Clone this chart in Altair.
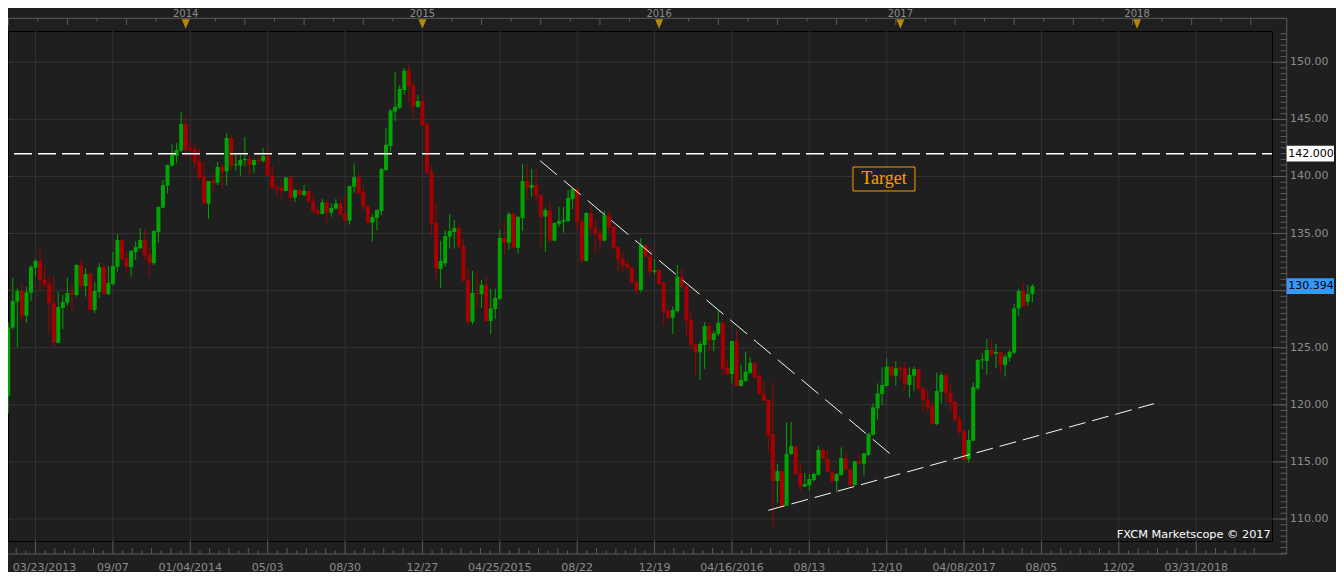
import altair as alt
import numpy as np
import pandas as pd

# ---------------- weekly OHLC (bar index 0 = first visible week) ----------------
opens = [120.80, 126.76, 129.04, 129.97, 127.81, 129.82, 132.00, 132.60, 131.00, 130.58,
         128.89, 125.44, 128.48, 128.95, 129.82, 129.62, 132.25, 130.41, 131.49, 128.30,
         129.91, 132.07, 129.71, 130.58, 132.10, 134.43, 132.86, 132.07, 133.38, 133.70,
         134.43, 133.12, 132.42, 135.13, 137.27, 139.19, 140.95, 141.82, 142.26, 144.60,
         142.49, 142.41, 141.36, 139.98, 137.62, 139.60, 139.46, 140.83, 140.45, 143.37,
         140.98, 140.95, 141.44, 141.53, 141.00, 141.44, 141.38, 141.79, 140.10, 139.10,
         139.02, 138.73, 139.90, 138.14, 138.81, 138.38, 138.73, 137.82, 137.03, 136.71,
         137.73, 136.83, 137.18, 137.65, 136.71, 136.13, 139.10, 139.95, 138.61, 137.41,
         135.95, 136.37, 136.98, 140.57, 142.67, 145.68, 146.03, 147.57, 149.27, 148.00,
         146.11, 146.61, 144.60, 140.39, 135.93, 131.90, 132.40, 134.73, 135.14, 135.49,
         133.91, 130.93, 127.28, 129.80, 129.70, 130.50, 127.34, 128.39, 129.27, 134.61,
         134.20, 136.71, 133.76, 136.36, 139.60, 139.02, 139.25, 138.38, 136.48, 137.06,
         134.38, 135.87, 136.04, 136.10, 138.03, 138.90, 136.04, 132.62, 136.80, 135.52,
         135.05, 134.38, 136.60, 135.60, 133.82, 132.77, 132.33, 132.04, 130.76, 130.06,
         133.99, 132.97, 131.66, 131.80, 130.70, 128.25, 127.63, 128.22, 131.23, 130.41,
         127.43, 125.33, 124.60, 125.24, 126.90, 125.68, 126.20, 127.20, 123.26, 122.70,
         125.59, 121.65, 122.08, 122.81, 123.69, 122.52, 121.00, 120.42, 117.45, 113.33,
         114.20, 111.17, 115.69, 116.39, 114.03, 112.83, 112.97, 113.41, 113.85, 116.04,
         115.31, 114.15, 113.33, 113.85, 115.34, 114.38, 112.98, 115.05, 114.84, 115.63,
         117.39, 119.69, 120.95, 121.65, 123.34, 122.55, 123.28, 123.20, 121.74, 122.55,
         123.14, 121.44, 120.48, 119.84, 118.32, 121.15, 122.61, 121.08, 120.28, 118.76,
         117.71, 115.23, 116.86, 121.44, 123.90, 123.84, 124.80, 124.48, 124.63, 123.49,
         124.13, 124.57, 128.45, 129.97, 129.03, 129.70]
highs = [127.22, 131.11, 130.20, 130.67, 130.32, 132.25, 132.77, 133.79, 132.16, 131.34,
         131.28, 129.88, 129.62, 131.11, 130.55, 132.30, 132.77, 131.98, 131.57, 130.76,
         132.42, 132.33, 132.16, 133.38, 134.96, 134.52, 133.50, 133.56, 134.32, 135.48,
         135.40, 133.73, 135.31, 137.38, 139.69, 141.05, 142.84, 142.93, 145.65, 145.12,
         143.20, 142.90, 142.40, 141.24, 139.60, 140.27, 141.27, 141.09, 143.81, 143.57,
         141.94, 141.88, 143.46, 141.82, 141.50, 141.94, 142.49, 142.38, 140.95, 139.34,
         139.63, 139.98, 139.98, 138.90, 138.90, 139.25, 138.81, 138.46, 137.30, 138.03,
         137.94, 137.65, 138.03, 138.03, 138.29, 139.20, 141.15, 140.21, 139.16, 137.50,
         136.68, 137.10, 140.74, 144.25, 145.88, 149.15, 148.00, 149.50, 149.79, 148.27,
         147.14, 147.22, 144.80, 140.92, 137.65, 134.35, 135.31, 136.70, 136.19, 135.93,
         134.58, 131.87, 131.72, 131.52, 130.93, 131.28, 130.14, 130.14, 135.31, 135.98,
         136.89, 136.97, 136.54, 141.09, 141.00, 140.66, 140.66, 138.40, 137.24, 137.76,
         136.00, 137.33, 137.33, 138.82, 138.97, 138.97, 136.25, 136.89, 137.42, 136.19,
         135.25, 136.97, 136.97, 135.69, 133.91, 133.27, 132.80, 132.10, 130.99, 134.61,
         134.05, 133.80, 132.77, 131.93, 130.80, 128.69, 128.60, 132.25, 131.98, 130.50,
         128.13, 125.33, 125.60, 127.25, 127.20, 126.50, 128.22, 127.20, 123.98, 125.60,
         126.47, 123.50, 124.66, 124.16, 123.70, 122.70, 122.03, 120.50, 121.99, 114.82,
         114.20, 118.44, 118.50, 116.40, 114.87, 114.03, 113.94, 114.06, 116.39, 116.19,
         116.04, 114.15, 114.00, 116.28, 115.75, 114.40, 115.10, 115.75, 115.80, 117.56,
         120.16, 121.88, 123.30, 124.07, 123.40, 123.81, 123.40, 123.75, 123.28, 123.34,
         123.14, 121.44, 121.30, 120.28, 122.82, 122.85, 122.85, 121.82, 120.30, 119.02,
         117.80, 117.80, 121.97, 123.98, 124.50, 125.77, 125.68, 125.33, 124.65, 124.45,
         124.80, 128.83, 130.15, 130.73, 130.50, 130.58]
lows = [119.23, 126.60, 125.06, 127.28, 127.20, 129.09, 131.28, 130.06, 130.26, 126.23,
        125.06, 125.40, 126.64, 128.68, 128.07, 129.47, 130.14, 129.47, 128.20, 128.04,
        129.36, 129.60, 129.60, 130.50, 131.66, 132.68, 131.52, 131.23, 132.68, 133.65,
        132.68, 131.31, 132.24, 134.20, 137.20, 138.52, 140.90, 141.15, 142.17, 141.68,
        141.60, 140.57, 139.70, 137.60, 136.28, 138.76, 139.25, 138.93, 139.25, 140.57,
        140.48, 140.07, 140.90, 140.13, 140.33, 141.15, 141.20, 139.98, 138.90, 138.23,
        138.03, 138.70, 137.76, 137.76, 138.23, 138.23, 137.75, 136.77, 136.70, 136.70,
        135.84, 136.48, 137.10, 136.57, 136.10, 135.78, 138.58, 138.40, 137.00, 135.90,
        134.29, 135.30, 136.62, 140.48, 142.17, 144.86, 145.90, 147.14, 146.52, 145.06,
        145.97, 144.40, 140.20, 134.82, 131.02, 130.23, 132.10, 133.70, 133.68, 133.59,
        130.80, 127.05, 127.05, 128.50, 128.50, 127.30, 126.20, 127.52, 129.20, 133.24,
        133.56, 133.70, 133.24, 135.22, 137.94, 138.23, 137.79, 133.85, 133.42, 134.33,
        134.30, 135.60, 135.08, 136.00, 137.15, 135.31, 132.40, 132.50, 134.90, 133.24,
        133.56, 134.30, 134.87, 133.56, 131.66, 131.57, 131.90, 130.60, 129.70, 129.82,
        132.88, 131.23, 131.40, 130.50, 126.93, 127.50, 126.20, 128.10, 130.20, 126.00,
        125.00, 122.55, 122.17, 123.14, 124.70, 124.70, 126.00, 122.60, 122.60, 121.88,
        121.60, 121.60, 122.03, 122.70, 122.30, 120.90, 120.30, 115.69, 109.33, 111.43,
        110.93, 111.10, 115.60, 113.90, 112.33, 112.80, 112.48, 113.30, 113.80, 115.20,
        114.10, 113.20, 112.40, 113.80, 114.30, 112.83, 112.90, 114.80, 113.79, 115.50,
        117.30, 118.70, 120.00, 121.60, 122.30, 121.68, 122.10, 121.36, 120.63, 121.24,
        121.20, 119.40, 119.40, 118.20, 118.20, 120.13, 120.22, 119.40, 118.60, 117.45,
        115.10, 114.93, 116.80, 121.30, 123.10, 122.61, 124.16, 123.20, 122.70, 122.47,
        123.78, 124.45, 127.81, 128.60, 128.68, 128.98]
closes = [126.79, 129.09, 129.97, 127.81, 129.85, 132.07, 132.60, 130.96, 130.52, 128.89,
          125.44, 128.57, 129.00, 129.79, 129.65, 132.25, 130.41, 131.46, 128.30, 129.97,
          132.07, 129.71, 130.67, 132.16, 134.43, 132.77, 132.07, 133.47, 133.82, 134.43,
          133.06, 132.42, 135.22, 137.33, 139.25, 141.00, 141.88, 142.32, 144.60, 142.32,
          142.32, 141.30, 139.90, 137.62, 139.60, 139.40, 140.83, 140.45, 143.37, 140.95,
          141.00, 141.44, 141.53, 141.00, 141.44, 141.36, 141.79, 140.04, 139.02, 138.93,
          138.73, 139.90, 138.14, 138.81, 138.38, 138.73, 137.80, 137.00, 136.71, 137.73,
          136.83, 137.24, 137.65, 136.65, 136.13, 139.17, 139.95, 138.52, 137.36, 135.95,
          136.45, 137.06, 140.65, 142.76, 145.76, 146.11, 147.66, 149.27, 147.92, 146.11,
          146.61, 144.51, 140.33, 135.84, 131.90, 132.60, 134.78, 135.22, 135.49, 133.85,
          130.87, 127.28, 129.80, 129.70, 130.50, 127.34, 128.45, 129.36, 134.61, 134.20,
          136.71, 133.76, 136.45, 139.60, 139.02, 139.25, 138.32, 136.48, 137.06, 134.38,
          135.93, 136.10, 136.19, 138.12, 138.90, 136.04, 132.62, 136.80, 135.52, 134.99,
          134.38, 136.60, 135.52, 133.76, 132.71, 132.25, 131.98, 130.70, 130.06, 133.99,
          132.97, 131.66, 131.80, 130.58, 128.16, 127.63, 128.30, 131.23, 130.35, 127.37,
          125.27, 124.60, 125.33, 126.90, 125.68, 126.26, 127.20, 123.14, 122.70, 125.59,
          121.65, 122.17, 122.90, 123.69, 122.41, 120.95, 120.36, 117.36, 113.33, 114.20,
          111.08, 115.69, 116.39, 113.94, 112.83, 113.06, 113.50, 113.94, 116.04, 115.31,
          114.15, 113.33, 113.94, 115.34, 114.35, 112.98, 115.05, 114.84, 115.75, 117.45,
          119.78, 121.00, 121.74, 123.34, 122.58, 123.20, 123.10, 121.82, 122.61, 123.14,
          121.41, 120.45, 119.76, 118.32, 121.21, 122.61, 121.03, 120.19, 118.70, 117.65,
          115.17, 116.92, 121.56, 123.93, 123.93, 124.80, 124.42, 124.63, 123.49, 124.22,
          124.63, 128.45, 129.97, 128.60, 129.70, 130.39]

# ---------------- axis / annotation content ----------------
x_label_idx = [6, 23, 40, 57, 74, 91, 108, 125, 142, 159, 176, 193, 210, 227, 244, 261]
x_labels = ["03/23/2013", "09/07", "01/04/2014", "05/03", "08/30", "12/27", "04/25/2015",
            "08/22", "12/19", "04/16/2016", "08/13", "12/10", "04/08/2017", "08/05",
            "12/02", "03/31/2018"]
year_idx = [39, 91, 143, 196, 248]
year_labels = ["2014", "2015", "2016", "2017", "2018"]
price_ticks = [110, 115, 120, 125, 130, 135, 140, 145, 150]
price_tick_labels = ["110.00", "115.00", "120.00", "125.00", "130.00", "135.00",
                     "140.00", "145.00", "150.00"]
target_level = [142.0]
target_label = ["142.000"]
last_price = [130.394]
last_label = ["130.394"]
down_idx = [116.85, 193.88]
down_price = [141.38, 115.67]
up_idx = [166.99, 251.7]
up_price = [110.76, 120.10]
note_idx = [192.4]
note_price = [139.78]
note_text = ["Target"]
credit = ["FXCM Marketscope © 2017"]

# ---------------- styling ----------------
BG = "#1f1f1f"
GRID = "#333333"
AXIS = "#5c5c5c"
LABEL = "#8c8c8c"
UP = "#00a600"
DOWN = "#a60000"
GOLD = "#b8860b"
BLUE = "#3399ff"
ORANGE = "#ff9c00"
FONT = "DejaVu Sans"

W, H = 1264, 510
xs = alt.Scale(domain=[1.053, 276.55], nice=False, zero=False)
ys = alt.Scale(domain=[108.073, 152.741], nice=False, zero=False)


def X(f):
    return alt.X(f, type="quantitative", scale=xs, axis=None)


def Y(f):
    return alt.Y(f, type="quantitative", scale=ys, axis=None)


one = pd.DataFrame({"k": [0]})

df = pd.DataFrame({"idx": np.arange(len(opens)), "open": opens, "high": highs,
                   "low": lows, "close": closes})
df["dir"] = np.where(df["close"] >= df["open"], "up", "down")
df["bbot"] = np.minimum(df["open"], df["close"])
df["btop"] = np.maximum(np.maximum(df["open"], df["close"]), df["bbot"] + 0.09)
col = alt.Color("dir:N", scale=alt.Scale(domain=["up", "down"], range=[UP, DOWN]), legend=None)

# grid
vgrid = alt.Chart(pd.DataFrame({"idx": x_label_idx})).mark_rule(color=GRID, strokeWidth=1).encode(x=X("idx"))
hgrid = alt.Chart(pd.DataFrame({"p": price_ticks})).mark_rule(color=GRID, strokeWidth=1).encode(y=Y("p"))

# candles
wicks = alt.Chart(df).mark_rule(strokeWidth=1).encode(x=X("idx"), y=Y("low"), y2="high", color=col)
bodies = alt.Chart(df).mark_bar(size=4).encode(x=X("idx"), y=Y("bbot"), y2="btop", color=col)

# horizontal target line
tline = alt.Chart(pd.DataFrame({"p": target_level})).mark_rule(
    color="#ffffff", strokeWidth=1.5, strokeDash=[18, 6], strokeDashOffset=8).encode(y=Y("p"))

# trend lines
down_df = pd.DataFrame({"i": down_idx, "p": down_price})
up_df = pd.DataFrame({"i": up_idx, "p": up_price})
dline = alt.Chart(down_df).mark_line(color="#eaffea", strokeWidth=1, strokeDash=[22, 9]).encode(x=X("i"), y=Y("p"))
uline = alt.Chart(up_df).mark_line(color="#eaffea", strokeWidth=1, strokeDash=[17, 7]).encode(x=X("i"), y=Y("p"))

# Target note
note_df = pd.DataFrame({"i": note_idx, "p": note_price, "t": note_text})
note_box = alt.Chart(note_df).mark_rect(fill=BG, stroke=ORANGE, strokeWidth=1,
                                        xOffset=-31, x2Offset=31, yOffset=-12, y2Offset=12).encode(
    x=X("i"), x2="i", y=Y("p"), y2="p")
note_txt = alt.Chart(note_df).mark_text(font="Liberation Serif", fontSize=18, color=ORANGE,
                                        align="center", baseline="middle").encode(
    x=X("i"), y=Y("p"), text="t:N")

# right axis (the label hidden behind the last-price box is left out)
ylab_df = pd.DataFrame({"p": price_ticks, "t": price_tick_labels})
ylab_df = ylab_df[(ylab_df["p"] - last_price[0]).abs() > 1.2]
ylab = alt.Chart(ylab_df).mark_text(
    font=FONT, fontSize=11, color=LABEL, align="left", baseline="middle").encode(
    x=alt.value(1282), y=Y("p"), text="t:N")
minor_p = [round(107.0 + 0.5 * k, 2) for k in range(92)]
rt_minor = alt.Chart(pd.DataFrame({"p": minor_p})).mark_rule(color=AXIS, strokeWidth=1).encode(
    x=alt.value(1272.5), x2=alt.value(1278.7), y=Y("p"))
rt_major = alt.Chart(pd.DataFrame({"p": price_ticks})).mark_rule(color=AXIS, strokeWidth=1).encode(
    x=alt.value(1264.5), x2=alt.value(1278.7), y=Y("p"))
r_line = alt.Chart(one).mark_rule(color=AXIS, strokeWidth=1).encode(
    x=alt.value(1278.7), y=alt.value(-12.7), y2=alt.value(523))

# price boxes
box_df = pd.DataFrame({"p": target_level + last_price, "t": target_label + last_label,
                       "k": ["target", "last"]})
boxes = alt.Chart(box_df).mark_rect(yOffset=-7.8, y2Offset=7.8).encode(
    x=alt.value(1278.7), x2=alt.value(1326), y=Y("p"), y2="p",
    fill=alt.Color("k:N", scale=alt.Scale(domain=["target", "last"], range=["#ffffff", BLUE]), legend=None))
box_txt = alt.Chart(box_df).mark_text(font=FONT, fontSize=11, color="#000000", align="left",
                                      baseline="middle").encode(
    x=alt.value(1280.3), y=Y("p"), text="t:N")

# top strip
t_line = alt.Chart(one).mark_rule(color=AXIS, strokeWidth=1).encode(
    x=alt.value(0), x2=alt.value(1278.7), y=alt.value(-12.7))
top_ticks = [39 + 6.5 * k for k in range(-6, 37)]
tall = [v for k, v in zip(range(-6, 37), top_ticks) if k % 2 == 0]
short = [v for k, v in zip(range(-6, 37), top_ticks) if k % 2 != 0]
tt_tall = alt.Chart(pd.DataFrame({"idx": tall})).mark_rule(color=AXIS, strokeWidth=1).encode(
    x=X("idx"), y=alt.value(-12.7), y2=alt.value(-6))
tt_short = alt.Chart(pd.DataFrame({"idx": short})).mark_rule(color=AXIS, strokeWidth=1).encode(
    x=X("idx"), y=alt.value(-12.7), y2=alt.value(-9.3))
yr_df = pd.DataFrame({"idx": year_idx, "t": year_labels})
tri = alt.Chart(yr_df).mark_point(shape="M-1,-1.2L1,-1.2L0,1.2Z", size=64, filled=True,
                                  color=GOLD, opacity=1).encode(x=X("idx"), y=alt.value(-7))
yr_txt = alt.Chart(yr_df).mark_text(font=FONT, fontSize=10, color=LABEL, align="center",
                                    baseline="top").encode(
    x=X("idx"), y=alt.value(-22.5), text="t:N")

# bottom strip
b_line = alt.Chart(one).mark_rule(color=AXIS, strokeWidth=1).encode(
    x=alt.value(0), x2=alt.value(1278.7), y=alt.value(523))
bt = [6 + 2.125 * j for j in range(-2, 127)]
bt_major = [v for j, v in zip(range(-2, 127), bt) if j % 8 == 0]
bt_mid = [v for j, v in zip(range(-2, 127), bt) if j % 8 != 0 and j % 2 == 0]
bt_min = [v for j, v in zip(range(-2, 127), bt) if j % 2 != 0]
bmaj = alt.Chart(pd.DataFrame({"idx": bt_major})).mark_rule(color=AXIS).encode(
    x=X("idx"), y=alt.value(510), y2=alt.value(523))
bmid = alt.Chart(pd.DataFrame({"idx": bt_mid})).mark_rule(color=AXIS).encode(
    x=X("idx"), y=alt.value(517), y2=alt.value(523))
bmin = alt.Chart(pd.DataFrame({"idx": bt_min})).mark_rule(color=AXIS).encode(
    x=X("idx"), y=alt.value(519.5), y2=alt.value(523))
xl_df = pd.DataFrame({"idx": x_label_idx, "t": x_labels})
xl_first = alt.Chart(xl_df.iloc[:1]).mark_text(font=FONT, fontSize=11, color=LABEL, align="left",
                                               baseline="middle", dx=-22.7).encode(
    x=X("idx"), y=alt.value(536.5), text="t:N")
xl_rest = alt.Chart(xl_df.iloc[1:]).mark_text(font=FONT, fontSize=11, color=LABEL, align="center",
                                              baseline="middle").encode(
    x=X("idx"), y=alt.value(536.5), text="t:N")

# credit
cred = alt.Chart(pd.DataFrame({"t": credit})).mark_text(font=FONT, fontSize=11.3, color="#ffffff",
                                                         align="right", baseline="middle").encode(
    x=alt.value(1262.7), y=alt.value(503.7), text="t:N")

chart = alt.layer(
    hgrid, vgrid, wicks, bodies, tline, dline, uline, note_box, note_txt,
    ylab, rt_minor, rt_major, r_line, boxes, box_txt,
    t_line, tt_tall, tt_short, tri, yr_txt,
    b_line, bmaj, bmid, bmin, xl_first, xl_rest, cred
).properties(
    width=W, height=H, background=BG,
    padding={"left": 0, "right": 64, "top": 23, "bottom": 31},
    autosize=alt.AutoSizeParams(type="none"),
).configure_view(stroke="#000000", strokeWidth=1, fill=BG)

chart.save("out.html", embed_options={"renderer": "svg", "actions": False})
